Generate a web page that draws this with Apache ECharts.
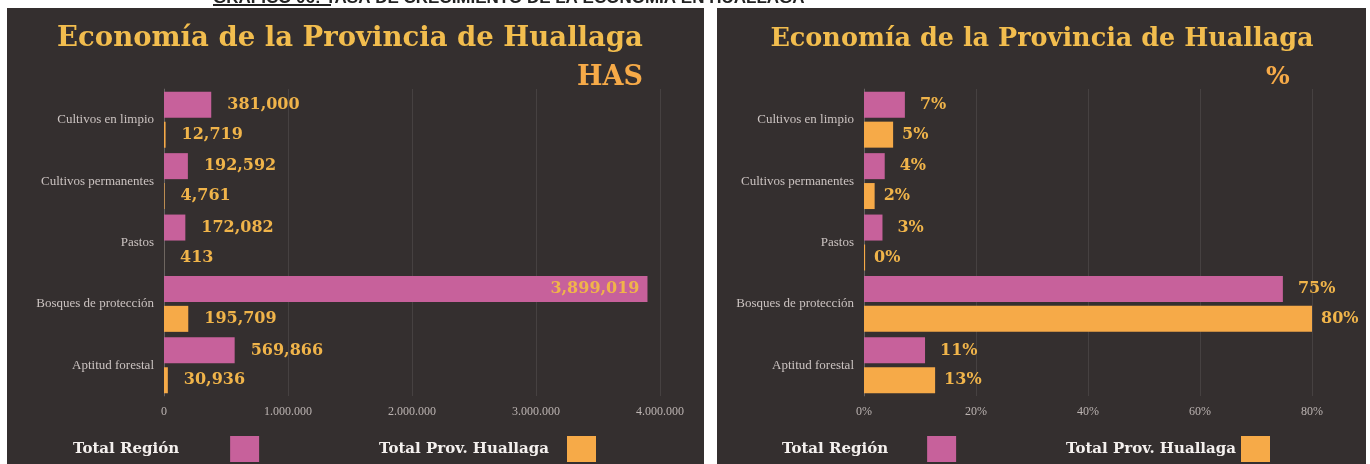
<!DOCTYPE html>
<html>
<head>
<meta charset="utf-8">
<script src="https://cdn.jsdelivr.net/npm/echarts@6/dist/echarts.min.js"></script>
<style>
  html, body { margin: 0; padding: 0; background: #fff; }
  #chart { width: 1370px; height: 464px; }
</style>
</head>
<body>
<div id="chart"></div>
<script>
const categories = ['Cultivos en limpio', 'Cultivos permanentes', 'Pastos', 'Bosques de protección', 'Aptitud forestal']
const regionHas = [381000, 192592, 172082, 3899019, 569866]
const huallagaHas = [12719, 4761, 413, 195709, 30936]
const regionPct = [0.073, 0.037, 0.033, 0.748, 0.109]
const huallagaPct = [0.052, 0.019, 0.002, 0.80, 0.127]
const hasTicks = [0, 1000000, 2000000, 3000000, 4000000]
const pctTicks = [0, 0.2, 0.4, 0.6, 0.8]

const pink = '#c7619b'
const orange = '#f6aa48'
const gold = '#f0b44a'
const panel = '#342f2f'
const serif = '"DejaVu Serif", "Liberation Serif", serif'
const oldSerif = '"Liberation Serif", serif'

let chart = echarts.init(document.getElementById('chart'))

function yAxis(grid) {
    return {
        type: 'category',
        gridIndex: grid,
        data: categories,
        inverse: true,
        axisLine: {show: true, lineStyle: {color: 'rgba(255,255,255,0.18)'}},
        axisTick: {show: false},
        axisLabel: {color: '#cbc3c1', fontFamily: oldSerif, fontSize: 13, margin: 10}
    }
}

function xAxis(grid, ticks, fmt) {
    return {
        type: 'value',
        gridIndex: grid,
        min: ticks[0],
        max: ticks[ticks.length - 1],
        interval: ticks[1] - ticks[0],
        axisLine: {show: false},
        axisTick: {show: false},
        splitLine: {lineStyle: {color: 'rgba(255,255,255,0.09)', width: 1}},
        axisLabel: {color: '#bcb4b2', fontFamily: oldSerif, fontSize: 12, margin: 10, formatter: fmt}
    }
}

function barLabel(fmt, dist) {
    return {
        show: true,
        position: 'right',
        distance: dist,
        color: gold,
        fontFamily: serif,
        fontWeight: 'bold',
        fontSize: 16,
        formatter: p => fmt(p.value)
    }
}

const fmtHas = v => v.toLocaleString('en-US')
const fmtPct = v => Math.round(v * 100) + '%'

function legend(name, left, gap) {
    return {
        data: [name],
        left: left,
        top: 436,
        padding: 0,
        align: 'right',
        icon: 'rect',
        itemWidth: 29,
        itemHeight: 26,
        selectedMode: false,
        textStyle: {color: '#f4f0ee', fontFamily: serif, fontWeight: 'bold', fontSize: 15, padding: [0, gap, 0, 0]}
    }
}

chart.setOption({
    backgroundColor: '#ffffff',
    animation: false,
    graphic: [
        {type: 'rect', shape: {x: 7, y: 8, width: 697, height: 456}, style: {fill: panel}, z: -10},
        {type: 'rect', shape: {x: 717, y: 8, width: 649, height: 456}, style: {fill: panel}, z: -10},
        {type: 'text', x: 213, y: 7, z: -20, style: {text: 'GRÁFICO 06: TASA DE CRECIMIENTO DE LA ECONOMÍA EN HUALLAGA', fill: '#222', font: 'bold 17px "Liberation Sans", sans-serif', verticalAlign: 'bottom'}},
        {type: 'rect', shape: {x: 213, y: 4, width: 118, height: 2}, style: {fill: '#222'}},
        {type: 'text', x: 350, y: 39, style: {text: 'Economía de la Provincia de Huallaga', fill: '#f2bd4e', font: 'bold 27.5px ' + serif, align: 'center', verticalAlign: 'middle'}},
        {type: 'text', x: 1042, y: 39, style: {text: 'Economía de la Provincia de Huallaga', fill: '#f2bd4e', font: 'bold 25.5px ' + serif, align: 'center', verticalAlign: 'middle'}},
        {type: 'text', x: 643, y: 78, style: {text: 'HAS', fill: orange, font: 'bold 27px ' + serif, align: 'right', verticalAlign: 'middle'}},
        {type: 'text', x: 1278, y: 77, style: {text: '%', fill: orange, font: 'bold 25px ' + serif, align: 'center', verticalAlign: 'middle'}}
    ],
    grid: [
        {left: 164, right: 710, top: 89, bottom: 68},
        {left: 864, right: 58, top: 89, bottom: 68}
    ],
    xAxis: [xAxis(0, hasTicks, v => v.toLocaleString('de-DE')), xAxis(1, pctTicks, v => Math.round(v * 100) + '%')],
    yAxis: [yAxis(0), yAxis(1)],
    legend: [
        legend('Total Región', 73, 46),
        legend('Total Prov. Huallaga', 379, 13),
        legend('Total Región', 782, 34),
        legend('Total Prov. Huallaga', 1066, 0)
    ],
    series: [
        {
            name: 'Total Región', type: 'bar', xAxisIndex: 0, yAxisIndex: 0,
            barWidth: 26, barGap: '15%',
            itemStyle: {color: pink},
            label: barLabel(fmtHas, 16),
            data: regionHas.map((v, i) => i === 3 ? {value: v, label: {position: 'insideRight', distance: 8}} : v)
        },
        {
            name: 'Total Prov. Huallaga', type: 'bar', xAxisIndex: 0, yAxisIndex: 0,
            barWidth: 26, barGap: '15%',
            itemStyle: {color: orange},
            label: barLabel(fmtHas, 16),
            data: huallagaHas
        },
        {
            name: 'Total Región', type: 'bar', xAxisIndex: 1, yAxisIndex: 1,
            barWidth: 26, barGap: '15%',
            itemStyle: {color: pink},
            label: barLabel(fmtPct, 15),
            data: regionPct
        },
        {
            name: 'Total Prov. Huallaga', type: 'bar', xAxisIndex: 1, yAxisIndex: 1,
            barWidth: 26, barGap: '15%',
            itemStyle: {color: orange},
            label: barLabel(fmtPct, 9),
            data: huallagaPct
        }
    ]
})
</script>
</body>
</html>
